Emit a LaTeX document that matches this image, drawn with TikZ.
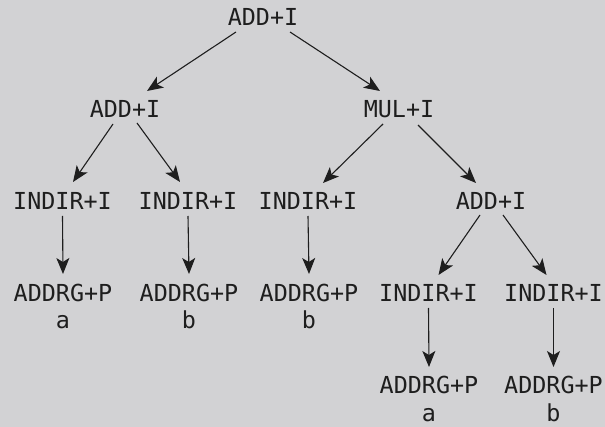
\documentclass[tikz,border=0pt]{standalone}
\usepackage{fontspec}
\setmonofont{DejaVu Sans Mono}
\usetikzlibrary{arrows.meta}
\definecolor{bg}{RGB}{210,210,212}
\definecolor{ink}{RGB}{30,30,30}
\begin{document}
\begin{tikzpicture}[x=1pt,y=1pt,
  lbl/.style={anchor=base,inner sep=0pt,text=ink,font=\ttfamily\fontsize{23.4}{27}\selectfont,align=center},
  arr/.style={draw=ink,line width=1.1pt,-{Stealth[length=16pt,width=13pt,inset=4pt]}}]
\fill[bg] (0,0) rectangle (605,-427);
\useasboundingbox (0,0) rectangle (605,-427);
% nodes (base anchor)
\node[lbl] (root) at (263,-26) {ADD+I};
\node[lbl] (adda) at (125,-118) {ADD+I};
\node[lbl] (mul)  at (399,-118) {MUL+I};
\node[lbl] (ia) at (62.5,-210) {INDIR+I};
\node[lbl] (ib) at (188,-210) {INDIR+I};
\node[lbl] (ic) at (308,-210) {INDIR+I};
\node[lbl] (addb) at (491,-210) {ADD+I};
\node[lbl] (ra) at (63,-302) {ADDRG+P};
\node[lbl] (rb) at (189,-302) {ADDRG+P};
\node[lbl] (rc) at (309,-302) {ADDRG+P};
\node[lbl] (va) at (63,-329) {a};
\node[lbl] (vb) at (189,-329) {b};
\node[lbl] (vc) at (309,-329) {b};
\node[lbl] (id) at (428.5,-302) {INDIR+I};
\node[lbl] (ie) at (553.5,-302) {INDIR+I};
\node[lbl] (rd) at (429,-394) {ADDRG+P};
\node[lbl] (re) at (553.5,-394) {ADDRG+P};
\node[lbl] (vd) at (429,-421) {a};
\node[lbl] (ve) at (553.5,-421) {b};
% connectors
\draw[arr] ([shift={(-27,-6)}]root.base) -- ([shift={(22,27)}]adda.base);
\draw[arr] ([shift={(27,-6)}]root.base) -- ([shift={(-19,27)}]mul.base);
\draw[arr] ([shift={(-12,-6)}]adda.base) -- ([shift={(10.5,28)}]ia.base);
\draw[arr] ([shift={(12,-5)}]adda.base) -- ([shift={(-8,28)}]ib.base);
\draw[arr] ([shift={(-16,-6)}]mul.base) -- ([shift={(15,27)}]ic.base);
\draw[arr] ([shift={(19,-7)}]mul.base) -- ([shift={(-15,27)}]addb.base);
\draw[arr] ([shift={(-11,-5)}]addb.base) -- ([shift={(10,27)}]id.base);
\draw[arr] ([shift={(12,-5)}]addb.base) -- ([shift={(-7,27)}]ie.base);
\draw[arr] ([yshift=-6pt]ia.base) -- ([yshift=28pt]ra.base);
\draw[arr] ([yshift=-6pt]ib.base) -- ([yshift=28pt]rb.base);
\draw[arr] ([yshift=-6pt]ic.base) -- ([yshift=28pt]rc.base);
\draw[arr] ([yshift=-6pt]id.base) -- ([yshift=27pt]rd.base);
\draw[arr] ([yshift=-6pt]ie.base) -- ([yshift=27pt]re.base);
\end{tikzpicture}
\end{document}
